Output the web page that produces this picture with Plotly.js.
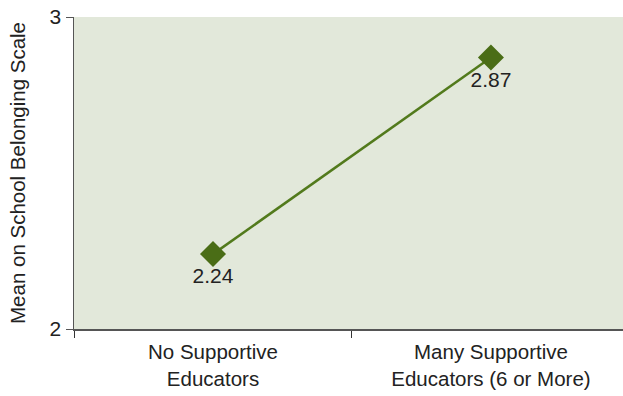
<!DOCTYPE html>
<html>
<head>
<meta charset="utf-8">
<script src="https://cdn.plot.ly/plotly-3.0.1.min.js"></script>
<style>html,body{margin:0;padding:0;background:#fff;}#chart{width:623px;height:396px;}</style>
</head>
<body>
<div id="chart"></div>
<script>
const categories = ["No Supportive<br>Educators", "Many Supportive<br>Educators (6 or More)"];
const means = [2.24, 2.87];
const valueLabels = ["2.24", "2.87"];
const yTickVals = [2, 3];
const yTickText = ["2", "3"];

const trace = {
  x: categories,
  y: means,
  type: "scatter",
  mode: "lines+markers+text",
  text: valueLabels,
  textposition: "bottom center",
  textfont: {family: "Liberation Sans, Arial, sans-serif", size: 21, color: "#222"},
  line: {color: "#527a1c", width: 2.5},
  marker: {symbol: "diamond", size: 20, color: "#4a6d16"},
  cliponaxis: false,
  hoverinfo: "skip"
};

const layout = {
  width: 623,
  height: 396,
  margin: {l: 74, r: 0, t: 17, b: 67},
  paper_bgcolor: "#ffffff",
  plot_bgcolor: "#e2e8da",
  showlegend: false,
  font: {family: "Liberation Sans, Arial, sans-serif", color: "#222"},
  xaxis: {
    type: "category",
    range: [-0.5, 1.475],
    tickson: "boundaries",
    ticks: "outside",
    ticklen: 7,
    tickcolor: "#333",
    ticklabelstandoff: 4,
    showline: true,
    linecolor: "#555",
    linewidth: 1.5,
    showgrid: false,
    zeroline: false,
    tickfont: {size: 20.5, color: "#222"}
  },
  yaxis: {
    range: [2, 3],
    tickvals: yTickVals,
    ticktext: yTickText,
    ticks: "outside",
    ticklen: 7,
    tickcolor: "#555",
    showline: true,
    linecolor: "#555",
    linewidth: 1.5,
    showgrid: false,
    zeroline: false,
    tickfont: {size: 21, color: "#222"},
    title: {text: "Mean on School Belonging Scale", font: {size: 20.5, color: "#222"}, standoff: 18}
  }
};

Plotly.newPlot("chart", [trace], layout, {displayModeBar: false, staticPlot: true});
</script>
</body>
</html>
